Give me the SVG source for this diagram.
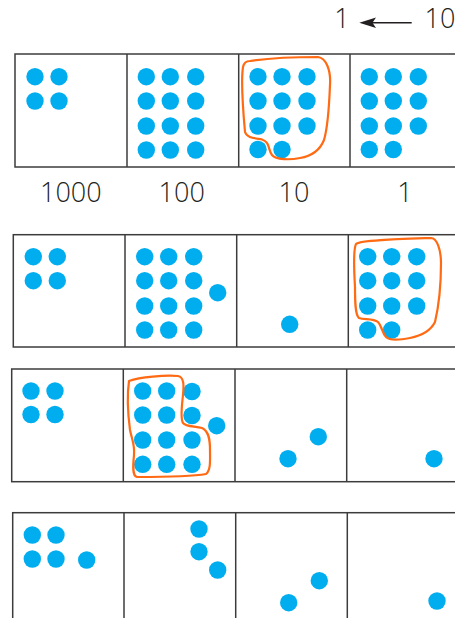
<svg xmlns="http://www.w3.org/2000/svg" width="455" height="618" viewBox="0 0 455 618">
<style>
.box{fill:none;stroke:#3c3c3c;stroke-width:1.5}
.d{fill:#00AEEF}
.loop{fill:none;stroke:#FF6A13;stroke-width:2.2;stroke-linejoin:round}
.lbl{font-family:"Open Sans","Liberation Sans",Arial,sans-serif;font-weight:300;font-size:27px;fill:#231f20;text-anchor:middle}
</style>
<defs>
<circle id="dot" r="8.7" class="d"/>
</defs>
<rect width="455" height="618" fill="#fff"/>

<g id="header">
<text class="lbl" x="342" y="28.3">1</text>
<text class="lbl" x="440" y="28.3">10</text>
</g>
<g id="connectors">
<line x1="372" y1="22.7" x2="411.7" y2="22.7" stroke="#231f20" stroke-width="1.6"/>
<polygon points="359.3,22.7 376,17.5 372.5,22.7 376,27.9" fill="#231f20"/>
</g>

<g id="row1">
<rect class="box" x="15" y="54" width="470" height="113"/>
<line class="box" x1="127" y1="54" x2="127" y2="167"/>
<line class="box" x1="238.7" y1="54" x2="238.7" y2="167"/>
<line class="box" x1="350" y1="54" x2="350" y2="167"/>
<g id="r1c1">
<use href="#dot" x="35" y="76.7"/><use href="#dot" x="59" y="76.7"/>
<use href="#dot" x="35" y="101"/><use href="#dot" x="59" y="101"/>
</g>
<g id="r1c2">
<use href="#dot" x="146.3" y="76.7"/><use href="#dot" x="170.3" y="76.7"/><use href="#dot" x="195.7" y="76.7"/>
<use href="#dot" x="146.3" y="101"/><use href="#dot" x="170.3" y="101"/><use href="#dot" x="195.7" y="101"/>
<use href="#dot" x="146.3" y="126"/><use href="#dot" x="170.3" y="126"/><use href="#dot" x="195.7" y="126"/>
<use href="#dot" x="146.3" y="150"/><use href="#dot" x="170.3" y="150"/><use href="#dot" x="195.7" y="150"/>
</g>
<g id="r1c3">
<use href="#dot" x="258" y="76.7"/><use href="#dot" x="282" y="76.7"/><use href="#dot" x="307" y="76.7"/>
<use href="#dot" x="258" y="101"/><use href="#dot" x="282" y="101"/><use href="#dot" x="307" y="101"/>
<use href="#dot" x="258" y="126"/><use href="#dot" x="282" y="126"/><use href="#dot" x="307" y="126"/>
<use href="#dot" x="258" y="149.5"/><use href="#dot" x="282" y="149.5"/>
<path class="loop" d="M 250 61 C 270 58, 300 57, 318 57 C 326 58, 331 70, 330 85 C 329 110, 327 130, 324 140 C 320 150, 312 156, 300 158 C 290 160, 276 160, 272 155 C 268 150, 270 142, 262 139.5 C 254 138, 247 138, 245 132 C 243 110, 241 80, 243 67 C 244 62, 247 61, 250 61 Z"/>
</g>
<g id="r1c4">
<use href="#dot" x="369.3" y="76.7"/><use href="#dot" x="393.3" y="76.7"/><use href="#dot" x="418.3" y="76.7"/>
<use href="#dot" x="369.3" y="101"/><use href="#dot" x="393.3" y="101"/><use href="#dot" x="418.3" y="101"/>
<use href="#dot" x="369.3" y="126"/><use href="#dot" x="393.3" y="126"/><use href="#dot" x="418.3" y="126"/>
<use href="#dot" x="369.3" y="149.5"/><use href="#dot" x="393.3" y="149.5"/>
</g>
</g>

<g id="labels">
<text class="lbl" x="70.8" y="201.7">1000</text>
<text class="lbl" x="181.7" y="201.7">100</text>
<text class="lbl" x="294" y="201.7">10</text>
<text class="lbl" x="405" y="201.7">1</text>
</g>

<g id="row2">
<rect class="box" x="13.3" y="234.7" width="470" height="112.3"/>
<line class="box" x1="125" y1="234.7" x2="125" y2="347"/>
<line class="box" x1="236.7" y1="234.7" x2="236.7" y2="347"/>
<line class="box" x1="348.3" y1="234.7" x2="348.3" y2="347"/>
<g id="r2c1">
<use href="#dot" x="33.3" y="256.7"/><use href="#dot" x="57.3" y="256.7"/>
<use href="#dot" x="33.3" y="280.7"/><use href="#dot" x="57.3" y="280.7"/>
</g>
<g id="r2c2">
<use href="#dot" x="144.7" y="256.7"/><use href="#dot" x="168.7" y="256.7"/><use href="#dot" x="193.7" y="256.7"/>
<use href="#dot" x="144.7" y="280.7"/><use href="#dot" x="168.7" y="280.7"/><use href="#dot" x="193.7" y="280.7"/>
<use href="#dot" x="144.7" y="306"/><use href="#dot" x="168.7" y="306"/><use href="#dot" x="193.7" y="306"/>
<use href="#dot" x="144.7" y="330"/><use href="#dot" x="168.7" y="330"/><use href="#dot" x="193.7" y="330"/>
<use href="#dot" x="217.7" y="292.7"/>
</g>
<g id="r2c3">
<use href="#dot" x="289.7" y="324.3"/>
</g>
<g id="r2c4">
<use href="#dot" x="367.7" y="256.7"/><use href="#dot" x="391.7" y="256.7"/><use href="#dot" x="416.7" y="256.7"/>
<use href="#dot" x="367.7" y="280.7"/><use href="#dot" x="391.7" y="280.7"/><use href="#dot" x="416.7" y="280.7"/>
<use href="#dot" x="367.7" y="306"/><use href="#dot" x="391.7" y="306"/><use href="#dot" x="416.7" y="306"/>
<use href="#dot" x="367.7" y="330"/><use href="#dot" x="391.7" y="330"/>
<path class="loop" d="M 356 244 C 360 240, 400 239, 431 238 C 437 238, 441 250, 441 263 C 441 285, 439 305, 435 322 C 430 332, 420 336, 410 338 C 400 340, 390 341, 386 337 C 382 333, 382 326, 378 322 C 373 318, 364 320, 359 318 C 355 315, 355 300, 355 287 C 354 270, 353 250, 356 244 Z"/>
</g>
</g>

<g id="row3">
<rect class="box" x="11.7" y="369" width="470" height="112.7"/>
<line class="box" x1="123.3" y1="369" x2="123.3" y2="481.7"/>
<line class="box" x1="235" y1="369" x2="235" y2="481.7"/>
<line class="box" x1="346.7" y1="369" x2="346.7" y2="481.7"/>
<g id="r3c1">
<use href="#dot" x="31" y="391"/><use href="#dot" x="55" y="391"/>
<use href="#dot" x="31" y="414.5"/><use href="#dot" x="55" y="414.5"/>
</g>
<g id="r3c2">
<use href="#dot" x="142.7" y="391"/><use href="#dot" x="166.7" y="391"/><use href="#dot" x="192" y="391.5"/>
<use href="#dot" x="142.7" y="415"/><use href="#dot" x="166.7" y="415"/><use href="#dot" x="192" y="415.5"/>
<use href="#dot" x="142.7" y="440"/><use href="#dot" x="166.7" y="440"/><use href="#dot" x="192" y="440"/>
<use href="#dot" x="142.7" y="464.3"/><use href="#dot" x="166.7" y="464.3"/><use href="#dot" x="192" y="464.3"/>
<use href="#dot" x="216.7" y="425.7"/>
<path class="loop" d="M 129 381 C 140 377, 165 375, 178 376 C 184 377, 184 385, 183 395 C 182 405, 180 418, 183 423 C 186 427, 195 426, 202 428 C 209 431, 210 440, 210 450 C 210 460, 211 470, 206 474 C 190 477, 150 477, 137 477 C 132 476, 133 465, 134 455 C 135 445, 132 440, 130 430 C 128 415, 127 395, 129 381 Z"/>
</g>
<g id="r3c3">
<use href="#dot" x="288" y="458.7"/><use href="#dot" x="318.3" y="436.7"/>
</g>
<g id="r3c4">
<use href="#dot" x="434" y="458.7"/>
</g>
</g>

<g id="row4">
<rect class="box" x="12.7" y="512.7" width="470" height="130"/>
<line class="box" x1="124" y1="512.7" x2="124" y2="618"/>
<line class="box" x1="235.7" y1="512.7" x2="235.7" y2="618"/>
<line class="box" x1="347.3" y1="512.7" x2="347.3" y2="618"/>
<g id="r4c1">
<use href="#dot" x="32.3" y="535"/><use href="#dot" x="56" y="535"/>
<use href="#dot" x="32.3" y="559"/><use href="#dot" x="56" y="559"/>
<use href="#dot" x="86.7" y="560"/>
</g>
<g id="r4c2">
<use href="#dot" x="199" y="529"/><use href="#dot" x="199" y="551.7"/><use href="#dot" x="217.7" y="570"/>
</g>
<g id="r4c3">
<use href="#dot" x="288.7" y="602.7"/><use href="#dot" x="319.3" y="580.7"/>
</g>
<g id="r4c4">
<use href="#dot" x="437" y="601"/>
</g>
</g>
</svg>
